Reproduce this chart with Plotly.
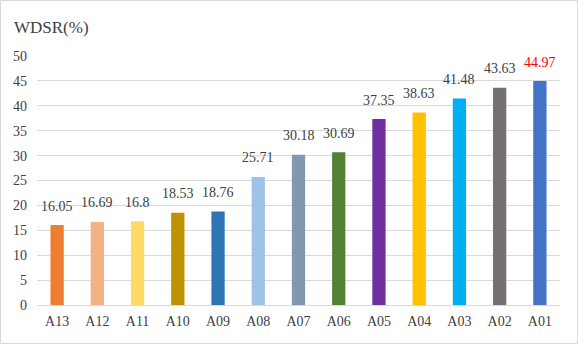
import plotly.graph_objects as go

# categories and WDSR values (%)
labels = ["A13", "A12", "A11", "A10", "A09", "A08", "A07", "A06", "A05", "A04", "A03", "A02", "A01"]
wdsr = [16.05, 16.69, 16.8, 18.53, 18.76, 25.71, 30.18, 30.69, 37.35, 38.63, 41.48, 43.63, 44.97]
bar_colors = ["#ED7D31", "#F4B183", "#FFD966", "#BF9000", "#2E75B6", "#9DC3E6", "#8497B0",
              "#548235", "#7030A0", "#FFC000", "#00B0F0", "#767171", "#4472C4"]
label_colors = ["#404040"] * 12 + ["#FF0000"]
y_ticks = [0, 5, 10, 15, 20, 25, 30, 35, 40, 45, 50]

serif = "Times New Roman, Liberation Serif, DejaVu Serif, serif"

fig = go.Figure(go.Bar(
    x=labels, y=wdsr,
    marker=dict(color=bar_colors, line=dict(width=0)),
    width=0.33,
    hoverinfo="x+y",
))

W, H = 578, 344
ml, mr, mt, mb = 37, 18, 56, 39
pw, ph = W - ml - mr, H - mt - mb

# value labels sit a little higher above the bars than plotly's outside text
value_notes = [
    dict(x=lab, y=val, text=str(val), xref="x", yref="y", showarrow=False,
         yanchor="middle", yshift=19,
         font=dict(family=serif, size=14, color=col))
    for lab, val, col in zip(labels, wdsr, label_colors)
]

fig.update_layout(
    width=W, height=H,
    margin=dict(l=ml, r=mr, t=mt, b=mb, autoexpand=False),
    paper_bgcolor="white", plot_bgcolor="white",
    showlegend=False,
    font=dict(family=serif, size=14, color="#404040"),
    xaxis=dict(showgrid=False, showline=False, ticks="", automargin=False,
               ticklabelstandoff=6, tickfont=dict(family=serif, size=14)),
    yaxis=dict(range=[0, 50], tickvals=y_ticks, showgrid=True, gridcolor="#D9D9D9",
               gridwidth=1, zeroline=True, zerolinecolor="#D9D9D9", zerolinewidth=1,
               showline=False, ticks="", automargin=False, ticklabelstandoff=9,
               tickfont=dict(family=serif, size=14)),
    annotations=value_notes + [
        dict(text="WDSR(%)", xref="paper", yref="paper",
             x=-25 / pw, y=1 + 28 / ph, xanchor="left", yanchor="middle",
             showarrow=False, font=dict(family=serif, size=17, color="#404040"))],
    shapes=[dict(type="rect", xref="paper", yref="paper",
                 x0=-(ml - 0.5) / pw, x1=1 + (mr - 0.5) / pw,
                 y0=-(mb - 0.5) / ph, y1=1 + (mt - 0.5) / ph,
                 line=dict(color="#D9D9D9", width=1), fillcolor="rgba(0,0,0,0)")],
    bargap=0.67,
)

# drop the default 8px page margin so the figure sits at the window's corner
fig.write_html("out.html", config={"displayModeBar": False},
               post_script="document.body.style.margin='0';")
